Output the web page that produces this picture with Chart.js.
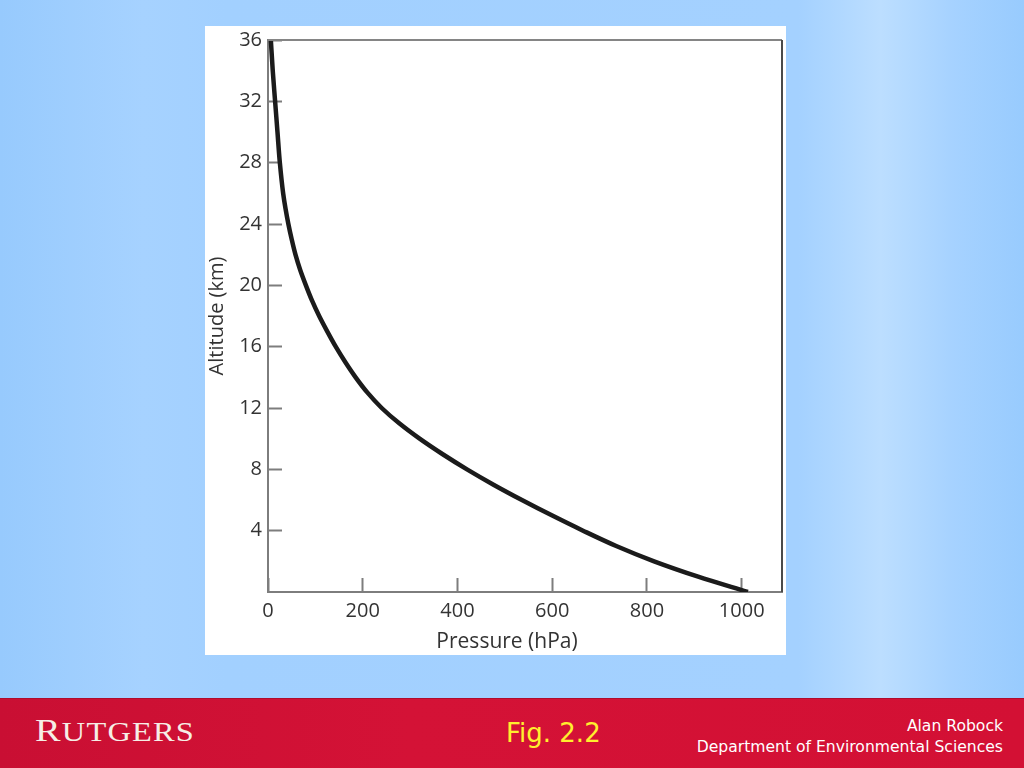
<!DOCTYPE html>
<html>
<head>
<meta charset="utf-8">
<script src="https://cdn.jsdelivr.net/npm/chart.js@4"></script>
<style>
  html, body { margin: 0; padding: 0; }
  body {
    width: 1024px; height: 768px; overflow: hidden; position: relative;
    background: linear-gradient(to right, #97cafd 0%, #a6d2ff 14%, #a2d0ff 22%, #a4d1ff 78%, #bcdeff 86%, #a6d2ff 93%, #98cbfe 100%);
    font-family: "Open Sans", sans-serif;
  }
  #panel { position: absolute; left: 205px; top: 26px; width: 581px; height: 629px; background: #fff; }
  #footer {
    position: absolute; left: 0; top: 698px; width: 1024px; height: 70px;
    background: linear-gradient(to right, #c90f33 0%, #d41236 40%, #d31034 100%);
    border-top: 1px solid #b00c2c; box-sizing: border-box;
  }
  #logo { position: absolute; left: 35px; top: 13px; color: #f6eee6; font-family: "Liberation Serif", serif; letter-spacing: 1px; transform: scaleX(1.2); transform-origin: left top; white-space: nowrap; }
  #logo .big { font-size: 32px; }
  #logo .small { font-size: 27px; }
  #fig { position: absolute; left: 506px; top: 19px; color: #ffef2e; font-size: 26px; font-family: "DejaVu Sans", sans-serif; }
  #author { position: absolute; right: 21px; top: 17px; color: #fff; font-size: 15.6px; text-align: right; line-height: 21px; font-family: "DejaVu Sans", sans-serif; }
</style>
</head>
<body>
<div id="panel"><canvas id="grafico" width="581" height="629"></canvas></div>
<div id="footer">
  <div id="logo"><span class="big">R</span><span class="small">UTGERS</span></div>
  <div id="fig">Fig. 2.2</div>
  <div id="author">Alan Robock<br>Department of Environmental Sciences</div>
</div>
<script>
// valores
var altitudeKm  = [0, 1, 2, 3, 4, 5, 6, 7, 8, 9, 10, 11, 12, 13, 14, 15, 16, 17, 18, 19, 20, 21, 22, 23, 24, 25, 26, 28, 30, 32, 34, 36];
var pressureHpa = [1013, 908, 815, 735, 665, 599, 536, 476, 420, 368, 320, 277, 240, 210, 185, 163, 143, 125, 108, 93, 80, 68, 58, 50, 43, 37, 32, 25, 20, 15, 10, 6];
var xTicks = [0, 200, 400, 600, 800, 1000];
var yTicks = [4, 8, 12, 16, 20, 24, 28, 32, 36];
var xTitulo = 'Pressure (hPa)';

var puntos = altitudeKm.map(function(a, i){ return {x: pressureHpa[i], y: a}; });

// borde superior y derecho del recuadro + titulo del eje x
var marco = {
  id: 'marco',
  afterDraw: function(chart){
    var ctx = chart.ctx, a = chart.chartArea;
    ctx.save();
    ctx.lineWidth = 2;
    ctx.strokeStyle = '#858585';
    ctx.beginPath();
    ctx.moveTo(a.left, a.top);
    ctx.lineTo(a.right, a.top);
    ctx.stroke();
    ctx.strokeStyle = '#4a4a4a';
    ctx.beginPath();
    ctx.moveTo(a.right, a.top);
    ctx.lineTo(a.right, a.bottom);
    ctx.stroke();
    // titulo del eje x (un poco a la izquierda del centro, como el original)
    ctx.fillStyle = '#333';
    ctx.font = '21px "Open Sans", sans-serif';
    ctx.textAlign = 'center';
    ctx.textBaseline = 'middle';
    ctx.fillText(xTitulo, a.left + (a.right - a.left) * 0.465, chart.height - 13);
    ctx.restore();
  }
};

var fuente = { family: '"Open Sans", sans-serif', size: 20 };

var config = {
  type: 'scatter',
  data: {
    datasets: [{
      label: 'Presion',
      data: puntos,
      indexAxis: 'y',
      showLine: true,
      borderColor: '#1b1b1b',
      borderWidth: 4.5,
      pointRadius: 0,
      cubicInterpolationMode: 'monotone',
      fill: false
    }]
  },
  options: {
    responsive: false,
    animation: false,
    layout: { padding: { top: 14, right: 4, left: 0, bottom: 0 } },
    plugins: { legend: { display: false }, tooltip: { enabled: false } },
    scales: {
      x: {
        type: 'linear', position: 'bottom', min: 0, max: 1085,
        afterBuildTicks: function(s){ s.ticks = xTicks.map(function(v){ return {value: v}; }); },
        afterFit: function(s){ s.height = 63; s.paddingLeft = 0; s.paddingRight = 0; },
        border: { color: '#7d7d7d', width: 2 },
        grid: { drawOnChartArea: false, tickLength: -14, color: '#7d7d7d', tickWidth: 2 },
        ticks: { color: '#333', font: fuente, padding: 21, maxRotation: 0, callback: function(v){ return String(v); } },
        title: { display: false }
      },
      y: {
        type: 'linear', position: 'left', min: 0, max: 36,
        afterBuildTicks: function(s){ s.ticks = yTicks.map(function(v){ return {value: v}; }); },
        afterFit: function(s){ s.width = 63; s.paddingTop = 0; s.paddingBottom = 0; },
        border: { color: '#7d7d7d', width: 2 },
        grid: { drawOnChartArea: false, tickLength: -14, color: '#7d7d7d', tickWidth: 2 },
        ticks: { color: '#333', font: fuente, padding: 20 },
        title: { display: true, text: 'Altitude (km)', color: '#333', font: { family: '"Open Sans", sans-serif', size: 20 }, padding: { top: 0, bottom: 0 } }
      }
    }
  },
  plugins: [marco]
};

window.myChart = new Chart(document.getElementById('grafico'), config);
</script>
</body>
</html>
